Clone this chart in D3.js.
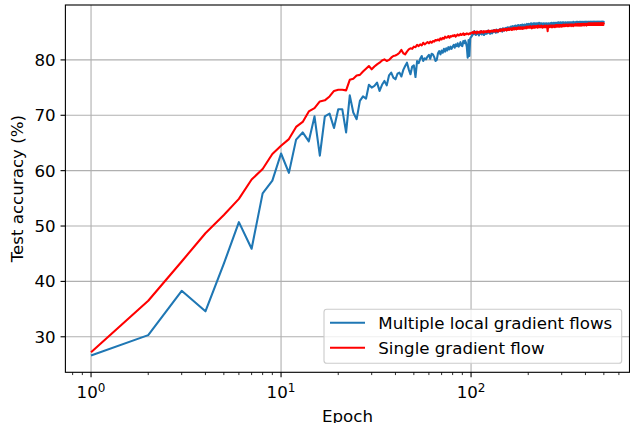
<!DOCTYPE html>
<html><head><meta charset="utf-8">
<script src="https://cdn.jsdelivr.net/npm/d3@7"></script>
<style>body{margin:0;background:#fff}svg{display:block}</style>
</head><body><svg id="c" width="630" height="423"></svg>
<script>
const seriesNames = ["Multiple local gradient flows", "Single gradient flow"];
const seriesColors = ["#1f77b4", "#ff0000"];
const multipleAcc = [
26.6,30.3,38.3,34.6,43.2,50.7,45.9,55.9,58.2,63.1,
59.6,65.6,66.9,65.3,69.8,62.7,69.8,70.3,67.7,71.1,
71.1,66.9,73.6,70.5,69.3,72.6,73.4,73.0,75.5,75.0,
75.3,75.9,74.4,75.5,76.2,75.4,77.2,77.7,76.8,76.5,
77.5,77.7,77.0,78.2,78.9,79.5,78.3,77.4,78.8,79.0,
76.9,79.8,79.4,80.2,80.7,79.8,80.3,80.1,80.6,80.9,
80.2,81.1,81.0,80.5,79.8,80.0,81.2,81.6,81.0,81.7,
81.3,82.0,81.5,82.1,81.7,82.3,81.9,82.4,82.0,82.4,
82.7,82.2,82.8,82.5,83.0,82.4,82.7,83.2,82.6,82.5,
83.4,83.0,83.5,83.1,82.3,80.4,83.6,80.7,83.9,84.1,
84.3,84.9,84.6,85.2,84.8,84.5,85.1,84.7,84.9,84.4,
85.0,84.7,85.2,84.6,84.9,85.1,84.5,84.8,85.0,84.7,
85.1,84.8,85.3,84.9,85.0,84.7,85.2,85.0,84.8,85.3,
85.0,85.4,85.1,85.2,84.9,85.5,85.2,85.0,85.4,85.3,
85.5,85.2,85.6,85.3,85.5,85.1,85.7,85.4,85.6,85.3,
85.7,85.4,85.8,85.5,85.6,85.9,85.4,85.8,85.6,85.9,
85.7,86.0,85.6,85.9,86.1,85.7,86.0,85.8,86.1,85.9,
86.2,85.9,86.1,85.8,86.2,86.0,86.3,85.9,86.1,86.2,
86.0,86.3,85.9,86.2,86.1,86.4,86.0,86.2,86.3,86.1,
86.4,86.1,86.3,86.0,86.4,86.2,86.5,86.1,86.3,86.2,
86.5,86.2,86.4,86.1,86.5,86.3,86.6,86.2,86.4,86.3,
86.5,86.2,86.6,86.4,86.3,86.6,86.2,86.5,86.4,86.6,
86.3,86.5,86.2,86.6,86.4,86.5,86.3,86.7,86.4,86.5,
86.2,86.6,86.4,86.3,86.6,86.4,86.2,86.5,86.3,86.6,
86.4,86.2,86.5,86.3,86.6,86.2,86.4,86.5,86.3,86.6,
86.4,86.2,86.5,86.3,86.4,86.6,86.2,86.5,86.3,86.4,
86.6,86.3,86.5,86.4,86.7,86.3,86.5,86.6,86.4,86.5,
86.7,86.4,86.6,86.3,86.5,86.7,86.4,86.6,86.5,86.7,
86.4,86.6,86.5,86.7,86.4,86.6,86.5,86.8,86.4,86.6,
86.5,86.7,86.4,86.6,86.8,86.5,86.6,86.4,86.7,86.5,
86.6,86.8,86.5,86.7,86.4,86.6,86.8,86.5,86.7,86.6,
86.5,86.7,86.6,86.8,86.5,86.7,86.6,86.4,86.7,86.6,
86.8,86.5,86.7,86.6,86.8,86.5,86.7,86.6,86.5,86.8,
86.6,86.7,86.5,86.8,86.6,86.7,86.5,86.8,86.6,86.7,
86.5,86.8,86.6,86.7,86.9,86.6,86.7,86.5,86.8,86.7,
86.6,86.8,86.7,86.5,86.8,86.7,86.6,86.9,86.7,86.6,
86.8,86.6,86.7,86.9,86.6,86.8,86.7,86.5,86.8,86.7,
86.6,86.9,86.7,86.8,86.6,86.7,86.9,86.6,86.8,86.7,
86.8,86.6,86.9,86.7,86.8,86.6,86.7,86.9,86.7,86.8,
86.6,86.8,86.7,86.9,86.7,86.6,86.8,86.7,86.9,86.6,
86.8,86.7,86.9,86.6,86.8,86.7,86.9,86.8,86.6,86.8,
86.7,86.9,86.6,86.8,86.7,86.9,86.8,86.6,86.8,86.7,
86.9,86.7,86.8,86.6,86.9,86.8,86.7,86.9,86.6,86.8,
86.7,86.9,86.8,86.6,86.9,86.7,86.8,86.7,86.9,86.8,
86.6,86.8,86.9,86.7,86.8,86.6,86.9,86.8,86.7,86.9,
86.7,86.8,86.6,86.9,86.8,86.7,86.9,86.7,86.8,86.6,
86.9,86.8,86.7,86.9,86.6,86.8,86.9,86.7,86.8,86.7,
86.9,86.7,86.8,86.6,86.9,86.8,86.7,86.9,86.8,86.7,
86.8,86.9,86.7,86.8,86.6,86.9,86.8,86.7,86.9,86.8,
86.7,86.9,86.8,86.7,86.9,86.8,86.6,86.8,86.9,86.8
];
const singleAcc = [
27.2,36.5,43.6,48.7,52.0,54.9,58.4,60.3,63.0,64.5,
65.7,67.9,68.8,70.7,71.3,72.5,72.7,73.4,74.4,74.6,
74.6,74.5,76.4,76.6,77.2,77.3,77.9,78.4,78.9,78.3,
78.8,79.2,79.5,79.9,80.1,79.8,80.0,80.4,80.7,80.8,
81.0,81.3,81.8,81.2,81.0,81.5,81.9,82.1,82.0,82.4,
82.3,82.7,82.5,82.8,82.6,83.1,82.8,83.0,83.2,83.0,
83.3,83.1,83.4,83.3,83.6,83.5,83.7,83.5,83.9,83.7,
84.0,83.8,84.2,84.0,84.1,84.3,84.0,84.3,84.2,84.4,
84.3,84.5,84.2,84.4,84.6,84.4,84.5,84.7,84.5,84.6,
84.8,84.5,84.7,84.6,84.8,84.7,84.6,84.8,84.7,84.9,
84.9,85.0,84.8,85.1,84.9,85.0,84.8,85.1,85.0,84.9,
85.1,84.9,85.2,85.0,85.1,84.9,85.2,85.0,85.1,85.2,
85.0,85.2,85.1,85.3,85.0,85.2,85.1,85.3,85.2,85.1,
85.3,85.2,85.4,85.1,85.3,85.4,85.2,85.3,85.1,85.4,
85.3,85.5,85.2,85.4,85.5,85.3,85.4,85.6,85.3,85.5,
85.4,85.6,85.5,85.3,85.6,85.4,85.5,85.7,85.4,85.6,
85.5,85.7,85.6,85.4,85.7,85.5,85.6,85.8,85.5,85.7,
85.6,85.8,85.5,85.7,85.8,85.6,85.7,85.9,85.6,85.8,
85.7,85.9,85.6,85.8,85.7,85.9,85.6,85.8,85.7,85.9,
85.8,85.7,85.9,85.8,86.0,85.7,85.9,85.8,86.0,85.8,
85.9,86.0,85.8,85.9,86.1,85.8,86.0,85.9,85.7,86.0,
85.9,86.1,85.8,86.0,85.9,86.1,85.8,86.0,85.9,86.1,
85.9,86.0,86.1,85.8,86.0,86.2,85.9,86.1,86.0,85.9,
86.1,85.9,86.0,86.2,85.9,86.1,86.0,85.8,86.1,86.0,
86.0,86.1,85.9,86.2,86.0,86.1,85.9,86.1,86.0,86.2,
86.0,85.7,85.2,85.8,86.1,86.0,86.2,85.9,86.1,86.0,
86.2,86.0,86.1,85.9,86.2,86.1,86.0,86.2,85.9,86.1,
86.1,86.2,86.0,86.2,86.1,85.9,86.2,86.1,86.3,86.0,
86.2,86.1,86.3,86.0,86.2,86.1,86.3,86.2,86.0,86.2,
86.3,86.1,86.2,86.0,86.3,86.2,86.1,86.3,86.2,86.0,
86.2,86.3,86.1,86.3,86.2,86.4,86.1,86.2,86.3,86.2,
86.1,86.3,86.2,86.4,86.2,86.1,86.3,86.2,86.4,86.2,
86.3,86.1,86.3,86.2,86.4,86.3,86.1,86.3,86.2,86.4,
86.2,86.3,86.4,86.2,86.3,86.1,86.4,86.3,86.2,86.4,
86.3,86.2,86.4,86.3,86.1,86.3,86.4,86.2,86.3,86.4,
86.3,86.4,86.2,86.4,86.3,86.5,86.2,86.3,86.4,86.3,
86.4,86.2,86.4,86.3,86.5,86.3,86.2,86.4,86.3,86.5,
86.3,86.4,86.2,86.4,86.5,86.3,86.4,86.2,86.4,86.3,
86.5,86.3,86.4,86.2,86.4,86.5,86.3,86.4,86.3,86.5,
86.4,86.3,86.5,86.2,86.4,86.3,86.5,86.4,86.3,86.5,
86.4,86.3,86.5,86.4,86.2,86.5,86.4,86.3,86.5,86.4,
86.3,86.5,86.4,86.6,86.3,86.4,86.5,86.3,86.4,86.6,
86.4,86.3,86.5,86.4,86.6,86.3,86.5,86.4,86.3,86.5,
86.4,86.6,86.3,86.5,86.4,86.5,86.3,86.6,86.4,86.5,
86.4,86.5,86.3,86.6,86.4,86.5,86.4,86.6,86.3,86.5,
86.5,86.4,86.6,86.3,86.5,86.4,86.6,86.5,86.3,86.5,
86.4,86.6,86.5,86.3,86.5,86.6,86.4,86.5,86.3,86.6,
86.5,86.4,86.6,86.5,86.3,86.5,86.4,86.6,86.5,86.4,
86.6,86.4,86.5,86.3,86.6,86.5,86.4,86.6,86.4,86.5,
86.3,86.6,86.5,86.4,86.6,86.5,86.3,86.5,86.6,86.4
];
const epochs = d3.range(1, multipleAcc.length + 1);
const yTicks = [30, 40, 50, 60, 70, 80];
const xTicks = [1, 10, 100];
const xTickExp = ["0", "1", "2"];
const xLabel = "Epoch";
const yLabel = "Test accuracy (%)";

const PT = 100 / 72;
const FS = 12 * PT;
const CAP = 0.729 * FS;
const L = 65.4, R = 629.5, T = 5, B = 372.3;
const svg = d3.select("#c");
const font = "DejaVu Sans, sans-serif";

// x: log with 5% margins in log space
const lx0 = Math.log10(d3.min(epochs)), lx1 = Math.log10(d3.max(epochs));
const mx = 0.05 * (lx1 - lx0);
const x = d3.scaleLog().domain([10 ** (lx0 - mx), 10 ** (lx1 + mx)]).range([L, R]);
const allV = multipleAcc.concat(singleAcc);
const vmin = d3.min(allV), vmax = d3.max(allV), my = 0.05 * (vmax - vmin);
const y = d3.scaleLinear().domain([vmin - my, vmax + my]).range([B, T]);

// grid
const grid = svg.append("g").attr("stroke", "#b0b0b0").attr("stroke-width", 0.8 * PT);
xTicks.forEach(t => grid.append("line").attr("x1", x(t)).attr("x2", x(t)).attr("y1", T).attr("y2", B));
yTicks.forEach(t => grid.append("line").attr("x1", L).attr("x2", R).attr("y1", y(t)).attr("y2", y(t)));

// lines
svg.append("defs").append("clipPath").attr("id", "clip").append("rect")
  .attr("x", L).attr("y", T).attr("width", R - L).attr("height", B - T);
const line = d3.line().x((d, i) => x(epochs[i])).y(d => y(d));
[multipleAcc, singleAcc].forEach((s, k) => {
  svg.append("path").attr("d", line(s)).attr("fill", "none")
    .attr("stroke", seriesColors[k]).attr("stroke-width", 1.5 * PT)
    .attr("stroke-linejoin", "round").attr("stroke-linecap", "butt")
    .attr("clip-path", "url(#clip)");
});

// spines
svg.append("rect").attr("x", L).attr("y", T).attr("width", R - L).attr("height", B - T)
  .attr("fill", "none").attr("stroke", "#000").attr("stroke-width", 0.8 * PT);

// x ticks
const [d0, d1] = x.domain();
const minor = [];
[0.1, 1, 10, 100].forEach(b => { for (let k = 2; k <= 9; k++) { const v = b * k; if (v >= d0 && v <= d1) minor.push(v); } });
const tk = svg.append("g").attr("stroke", "#000");
minor.forEach(v => tk.append("line").attr("x1", x(v)).attr("x2", x(v)).attr("y1", B).attr("y2", B + 2 * PT).attr("stroke-width", 0.6 * PT));
xTicks.forEach((v, i) => {
  tk.append("line").attr("x1", x(v)).attr("x2", x(v)).attr("y1", B).attr("y2", B + 3.5 * PT).attr("stroke-width", 0.8 * PT);
  const t = svg.append("text").attr("x", x(v)).attr("y", 397.7).attr("text-anchor", "middle")
    .attr("font-family", font).attr("font-size", FS).attr("fill", "#000");
  t.append("tspan").text("10");
  t.append("tspan").attr("dy", -6).attr("font-size", FS * 0.72).text(xTickExp[i]);
});
// y ticks
yTicks.forEach(v => {
  tk.append("line").attr("x1", L - 3.5 * PT).attr("x2", L).attr("y1", y(v)).attr("y2", y(v)).attr("stroke-width", 0.8 * PT);
  svg.append("text").attr("x", L - 7 * PT).attr("y", y(v) + CAP / 2).attr("text-anchor", "end")
    .attr("font-family", font).attr("font-size", FS).attr("fill", "#000").text(v);
});

// axis labels
svg.append("text").attr("x", (L + R) / 2).attr("y", 410 + CAP).attr("text-anchor", "middle")
  .attr("font-family", font).attr("font-size", FS).attr("fill", "#000").text(xLabel);
svg.append("text").attr("transform", `translate(22.5,${(T + B) / 2}) rotate(-90)`).attr("text-anchor", "middle")
  .attr("font-family", font).attr("font-size", FS).attr("fill", "#000").text(yLabel);

// legend
const lg = svg.append("g");
lg.append("rect").attr("x", 324).attr("y", 309.3).attr("width", 297.7).attr("height", 54)
  .attr("rx", 2.8).attr("fill", "#fff").attr("fill-opacity", 0.8).attr("stroke", "#cccccc").attr("stroke-width", 0.8 * PT);
seriesNames.forEach((n, i) => {
  const yy = 322.7 + i * 25;
  lg.append("line").attr("x1", 330).attr("x2", 365).attr("y1", yy).attr("y2", yy)
    .attr("stroke", seriesColors[i]).attr("stroke-width", 1.5 * PT);
  lg.append("text").attr("x", 378.3).attr("y", yy + CAP / 2).attr("font-family", font).attr("font-size", FS)
    .attr("fill", "#000").text(n);
});
</script></body></html>
